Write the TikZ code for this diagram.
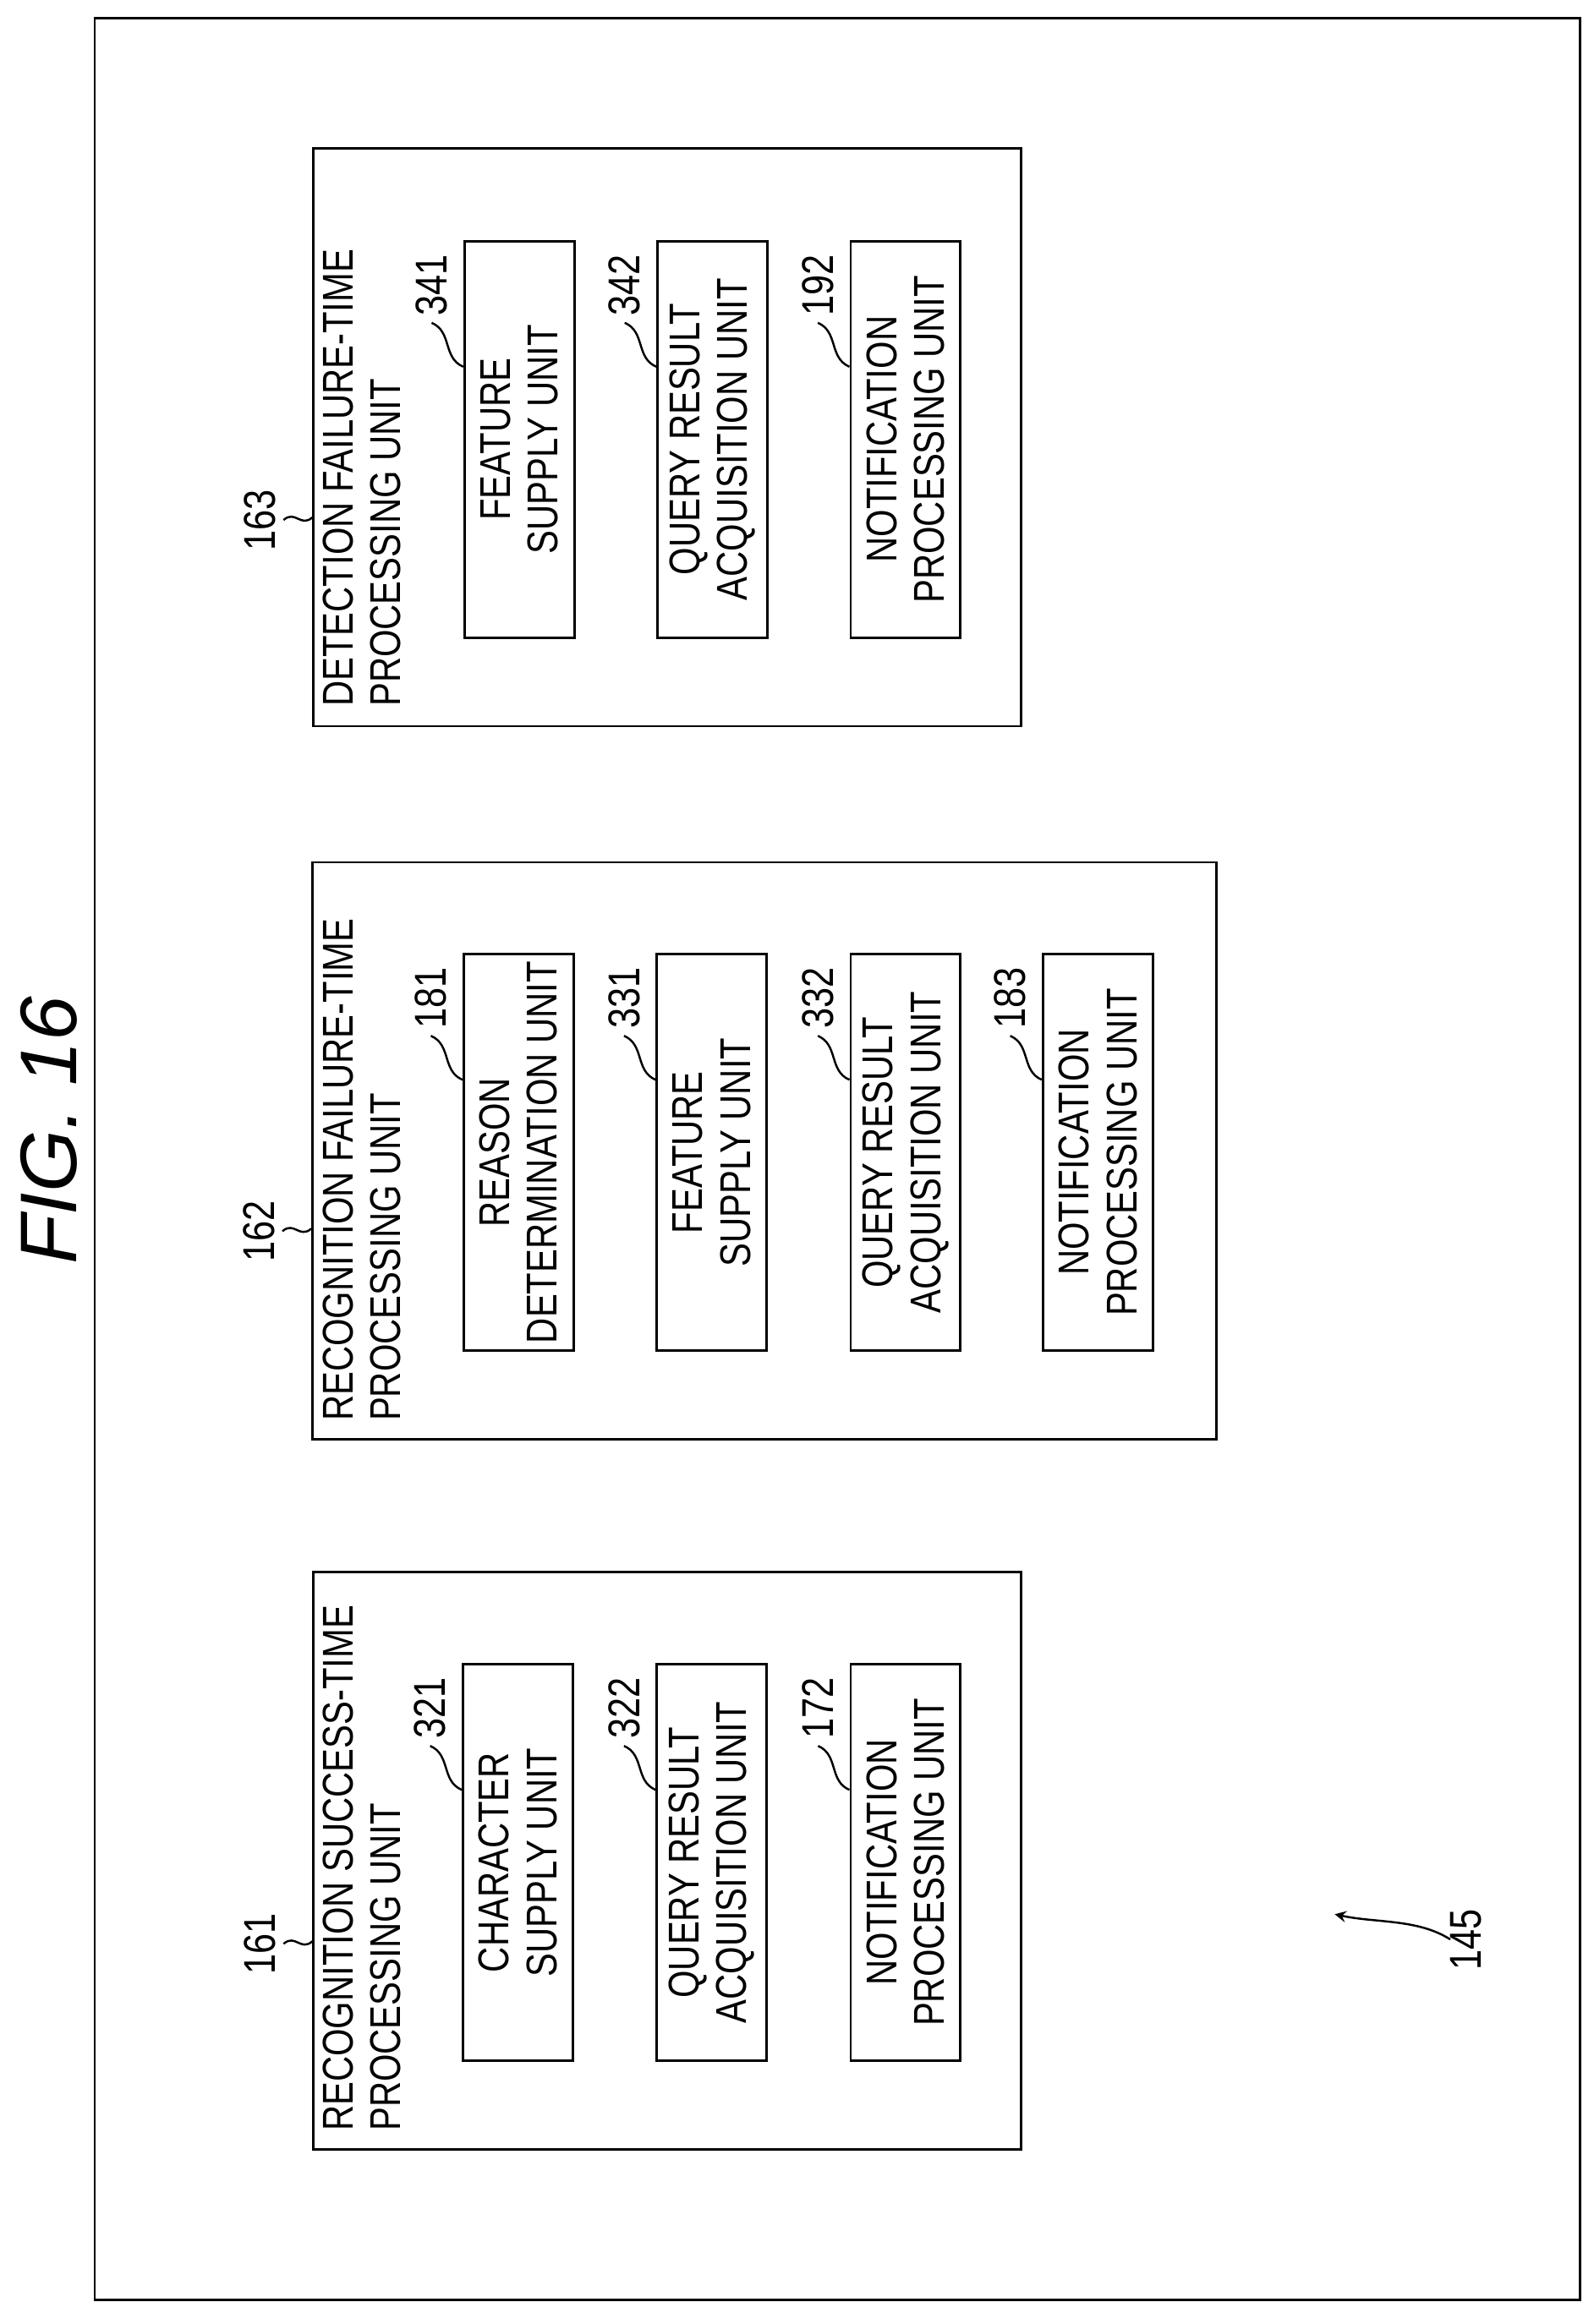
\documentclass[tikz,border=0pt]{standalone}
\usepackage{fontspec}
\setmainfont{Liberation Sans}
\newfontfamily\unitfont{Liberation Sans}[FakeStretch=0.82]
\usetikzlibrary{calc,positioning}

\tikzset{
  frame/.style={draw=black, line width=0.8pt},
  unit/.style={frame, rotate=90, minimum width=4.69cm, minimum height=1.3cm,
    align=center, inner sep=0pt, font=\unitfont\fontsize{14.5}{16}\selectfont},
  group/.style={frame, rotate=90, inner sep=0pt},
  grouplabel/.style={rotate=90, anchor=north west, align=left, inner sep=0pt,
    font=\unitfont\fontsize{14.5}{16}\selectfont},
  refnum/.style={rotate=90, inner sep=0pt, font=\unitfont\fontsize{15}{15}\selectfont},
  lead/.style={line width=0.7pt}
}

% one unit box with its reference number and leader
\newcommand{\unitbox}[4]{%
  \node[unit] (#1) at (#2) {#4};
  \node[refnum, anchor=south west] (#1n) at ([xshift=-0.18cm, yshift=-0.9cm]#1.north east) {#3};
  \draw[lead] ([yshift=-0.08cm]#1n.west) .. controls +(14,6) and +(-14,-6) .. ([yshift=-1.5cm]#1.north east);
}

\begin{document}
\begin{tikzpicture}[x=0.0175cm, y=-0.0175cm]
  \useasboundingbox (0,0) rectangle (1077,1571);

  % outer frame and title
  \node[frame, minimum width=17.57cm, minimum height=27.0cm, inner sep=0pt] (all) at (566,783.5) {};
  \node[rotate=90, inner sep=0pt, font=\itshape\fontsize{27}{27}\selectfont] (title) at (33,764) {FIG. 16};

  % Detection failure-time processing unit
  \node[group, minimum width=6.84cm, minimum height=8.37cm] (G163) at (451,295.5) {};
  \node[grouplabel] (L163) at (218,478) {DETECTION FAILURE-TIME\\PROCESSING UNIT};
  \unitbox{U341}{351,297}{341}{FEATURE\\SUPPLY UNIT}
  \unitbox{U342}{481.5,297}{342}{QUERY RESULT\\ACQUISITION UNIT}
  \unitbox{U192}{612,297}{192}{NOTIFICATION\\PROCESSING UNIT}

  % Recognition failure-time processing unit
  \node[group, minimum width=6.83cm, minimum height=10.69cm] (G162) at (516.5,778) {};
  \node[grouplabel] (L162) at (218,961) {RECOGNITION FAILURE-TIME\\PROCESSING UNIT};
  \unitbox{U181}{350.5,779}{181}{REASON\\DETERMINATION UNIT}
  \unitbox{U331}{481,779}{331}{FEATURE\\SUPPLY UNIT}
  \unitbox{U332}{612,779}{332}{QUERY RESULT\\ACQUISITION UNIT}
  \unitbox{U183}{742,779}{183}{NOTIFICATION\\PROCESSING UNIT}

  % Recognition success-time processing unit
  \node[group, minimum width=6.83cm, minimum height=8.37cm] (G161) at (451,1258) {};
  \node[grouplabel] (L161) at (218,1441) {RECOGNITION SUCCESS-TIME\\PROCESSING UNIT};
  \unitbox{U321}{350,1259}{321}{CHARACTER\\SUPPLY UNIT}
  \unitbox{U322}{481,1259}{322}{QUERY RESULT\\ACQUISITION UNIT}
  \unitbox{U172}{612,1259}{172}{NOTIFICATION\\PROCESSING UNIT}

  % group reference numbers
  \node[refnum] (N163) at ([xshift=-0.62cm, yshift=-0.98cm]G163.north) {163};
  \draw[lead] ([xshift=-0.34cm, yshift=-0.98cm]G163.north) .. controls +(8,-7) and +(-8,7) .. ([yshift=-0.95cm]G163.north);
  \node[refnum] (N162) at ([xshift=-0.62cm, yshift=-0.95cm]G162.north) {162};
  \draw[lead] ([xshift=-0.34cm, yshift=-0.95cm]G162.north) .. controls +(8,-7) and +(-8,7) .. ([yshift=-0.92cm]G162.north);
  \node[refnum] (N161) at ([xshift=-0.62cm, yshift=-0.98cm]G161.north) {161};
  \draw[lead] ([xshift=-0.34cm, yshift=-0.98cm]G161.north) .. controls +(8,-7) and +(-8,7) .. ([yshift=-0.95cm]G161.north);

  % whole unit
  \node[refnum] (N145) at (991,1311) {145};
  \coordinate (c145) at (902,1294);
  \draw[lead, ->, >=stealth] (N145.north) .. controls +(-22,-14) and +(28,6) .. (c145);
\end{tikzpicture}
\end{document}
